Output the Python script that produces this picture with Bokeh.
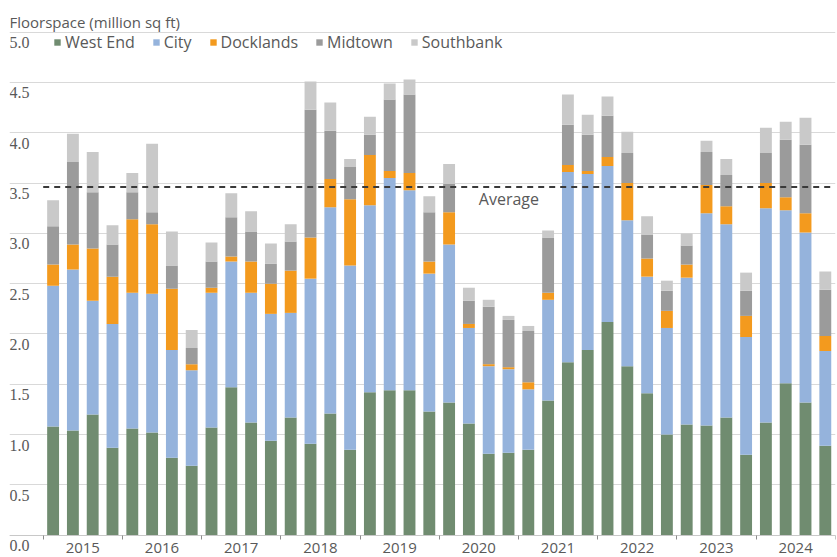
from bokeh.plotting import figure
from bokeh.models import (ColumnDataSource, Range1d, FixedTicker, Grid, Label,
                          LabelSet, Legend, LinearAxis)
from bokeh.embed import file_html
from bokeh.resources import INLINE

# ---------------- data ----------------
years = ["2015", "2016", "2017", "2018", "2019", "2020", "2021", "2022", "2023", "2024"]
quarters = [f"{y} Q{q}" for y in years for q in range(1, 5)]

west_end = [1.08, 1.04, 1.20, 0.87, 1.06, 1.02, 0.77, 0.69,
            1.07, 1.47, 1.12, 0.94, 1.17, 0.91, 1.21, 0.85,
            1.42, 1.44, 1.44, 1.23, 1.32, 1.11, 0.81, 0.82,
            0.85, 1.34, 1.72, 1.84, 2.12, 1.68, 1.41, 1.00,
            1.10, 1.09, 1.17, 0.80, 1.12, 1.51, 1.32, 0.89]
city = [1.40, 1.60, 1.13, 1.23, 1.35, 1.38, 1.07, 0.95,
        1.34, 1.25, 1.29, 1.26, 1.04, 1.64, 2.05, 1.83,
        1.86, 2.11, 1.99, 1.37, 1.57, 0.95, 0.87, 0.83,
        0.60, 1.00, 1.89, 1.75, 1.55, 1.45, 1.16, 1.06,
        1.46, 2.11, 1.92, 1.17, 2.13, 1.72, 1.69, 0.94]
docklands = [0.21, 0.25, 0.52, 0.47, 0.73, 0.69, 0.61, 0.06,
             0.05, 0.05, 0.31, 0.30, 0.42, 0.41, 0.28, 0.66,
             0.50, 0.07, 0.17, 0.12, 0.32, 0.04, 0.02, 0.02,
             0.07, 0.07, 0.07, 0.03, 0.09, 0.37, 0.18, 0.17,
             0.13, 0.28, 0.18, 0.21, 0.25, 0.13, 0.19, 0.15]
midtown = [0.38, 0.82, 0.56, 0.32, 0.27, 0.12, 0.23, 0.16,
           0.26, 0.39, 0.30, 0.20, 0.29, 1.27, 0.48, 0.32,
           0.20, 0.71, 0.78, 0.49, 0.28, 0.23, 0.57, 0.47,
           0.51, 0.55, 0.40, 0.36, 0.41, 0.30, 0.24, 0.20,
           0.19, 0.33, 0.31, 0.25, 0.30, 0.57, 0.68, 0.46]
southbank = [0.26, 0.28, 0.40, 0.19, 0.19, 0.68, 0.34, 0.18,
             0.19, 0.24, 0.20, 0.20, 0.17, 0.28, 0.28, 0.08,
             0.18, 0.16, 0.15, 0.16, 0.20, 0.13, 0.07, 0.04,
             0.05, 0.07, 0.30, 0.20, 0.19, 0.21, 0.18, 0.10,
             0.12, 0.11, 0.16, 0.18, 0.25, 0.18, 0.27, 0.18]
average = 3.46

series_keys = ["west_end", "city", "docklands", "midtown", "southbank"]
series_names = ["West End", "City", "Docklands", "Midtown", "Southbank"]
y_ticks = [0.0, 0.5, 1.0, 1.5, 2.0, 2.5, 3.0, 3.5, 4.0, 4.5, 5.0]
y_tick_labels = ["0.0", "0.5", "1.0", "1.5", "2.0", "2.5", "3.0", "3.5", "4.0", "4.5", "5.0"]
y_title = "Floorspace (million sq ft)"
avg_label = "Average"

# ---------------- styling ----------------
colors = ["#708c70", "#95b3dc", "#f39a1e", "#9b9b9b", "#c9c9c9"]
FONT = "Open Sans"
TXT = "#595959"

n = len(quarters)
x_pos = [i + 0.5 for i in range(n)]
source = ColumnDataSource(dict(x=x_pos, quarter=quarters, west_end=west_end, city=city,
                               docklands=docklands, midtown=midtown, southbank=southbank))

x_start, x_end = -1.702, 40.015
y_start, y_end = -0.2117, 5.315
p = figure(width=836, height=556, output_backend="svg", toolbar_location=None,
           x_range=Range1d(x_start, x_end), y_range=Range1d(y_start, y_end),
           x_axis_location=None, y_axis_location=None,
           min_border_left=9, min_border_right=1, min_border_top=0, min_border_bottom=0)
p.background_fill_color = "white"
p.border_fill_color = "white"
p.outline_line_color = None
p.grid.visible = False

p.add_layout(Grid(dimension=1, ticker=FixedTicker(ticks=y_ticks),
                  grid_line_color="#d9d9d9", grid_line_width=1))

renderers = p.vbar_stack(series_keys, x="x", width=0.6, fill_color=colors,
                         line_color=None, source=source)

# average line
p.line(x=[0, n], y=[average, average], line_color="#3a3a3a", line_width=2,
       line_dash="6 5")
p.add_layout(Label(x=22, y=average, text=avg_label, text_font=FONT,
                   text_font_size="16px", text_color=TXT, text_baseline="top",
                   y_offset=-1))

# x axis at y = 0: years centred between year boundaries
xa = LinearAxis(fixed_location=0)
xa.ticker = FixedTicker(ticks=[4 * i + 2 for i in range(len(years))],
                        minor_ticks=[4 * i for i in range(len(years) + 1)])
xa.major_label_overrides = {4 * i + 2: y for i, y in enumerate(years)}
xa.axis_line_color = "#c8c8c8"
xa.axis_line_width = 1
xa.major_tick_out = 0
xa.major_tick_in = 0
xa.minor_tick_out = 4
xa.minor_tick_in = 0
xa.minor_tick_line_color = "#8c8c8c"
xa.major_label_standoff = 4
xa.major_label_text_font = FONT
xa.major_label_text_font_size = "15px"
xa.major_label_text_color = TXT
p.add_layout(xa, "below")

# y tick labels sitting just under each gridline
tick_src = ColumnDataSource(dict(x=[x_start] * len(y_ticks), y=y_ticks, text=y_tick_labels))
p.add_layout(LabelSet(x="x", y="y", text="text", source=tick_src, x_offset=0, y_offset=-5,
                      text_baseline="top", text_font=FONT, text_font_size="16px",
                      text_color=TXT))

# axis title
p.add_layout(Label(x=x_start, y=5.0, text=y_title, text_font=FONT, text_font_size="15px",
                   text_color=TXT, text_baseline="alphabetic", x_offset=0, y_offset=10))

legend = Legend(items=[(nm, [r]) for nm, r in zip(series_names, renderers)],
                orientation="horizontal", location=(44, 503),
                glyph_width=8, glyph_height=8, label_standoff=4, spacing=17,
                padding=0, margin=0, border_line_color=None,
                background_fill_alpha=0, label_text_font=FONT,
                label_text_font_size="16px", label_text_color=TXT)
p.add_layout(legend, "center")

open("out.html", "w").write(file_html(p, INLINE))
